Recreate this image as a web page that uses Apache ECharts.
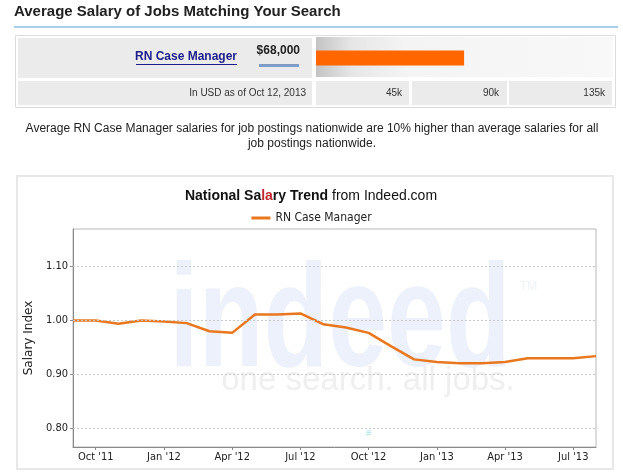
<!DOCTYPE html>
<html><head><meta charset="utf-8">
<script src="https://cdn.jsdelivr.net/npm/echarts@6/dist/echarts.min.js"></script>
<style>html,body{margin:0;padding:0;background:#fff}#c{width:623px;height:473px}</style>
</head><body><div id="c"></div>
<script>
// ---- data ----
var jobTitle = 'RN Case Manager';
var salaryCategories = ['RN Case Manager'];
var salaryValues = [68000];
var salaryTickLabels = ['45k', '90k', '135k'];
var months = ["Sep '11","Oct '11","Nov '11","Dec '11","Jan '12","Feb '12","Mar '12","Apr '12","May '12","Jun '12","Jul '12","Aug '12",
              "Sep '12","Oct '12","Nov '12","Dec '12","Jan '13","Feb '13","Mar '13","Apr '13","May '13","Jun '13","Jul '13","Aug '13"];
var salaryIndex = [1.000,1.000,0.994,1.000,0.998,0.995,0.980,0.977,1.011,1.011,1.013,0.993,
                   0.987,0.977,0.952,0.928,0.923,0.921,0.921,0.923,0.930,0.930,0.930,0.934];
var yTicks = [0.8, 0.9, 1.0, 1.1];

var chart = echarts.init(document.getElementById('c'), null, {renderer:'canvas'});
var orange = '#e8771e';
var cellFill = '#ebebeb';
var axisFont = '"DejaVu Sans Condensed", "DejaVu Sans", sans-serif';
function rect(x,y,w,h,fill,stroke,z){return {type:'rect',shape:{x:x,y:y,width:w,height:h},style:{fill:fill,stroke:stroke||null,lineWidth:stroke?1:0},z:z||0,silent:true};}
function txt(x,y,t,font,fill,align,z,extra,va){var s={text:t,font:font,fill:fill,align:align||'left',verticalAlign:va||'middle'};if(extra){for(var k in extra)s[k]=extra[k];}return {type:'text',x:x,y:y,style:s,z:z||5,silent:true};}

var logo = txt(340,399,'indeed','bold 106px Arial, "Liberation Sans", sans-serif','#edf1fb','center',-5,null,'bottom');
logo.scaleY = 1.38; logo.originX = 0; logo.originY = 0;

var graphics = [
  // header
  txt(14,12,'Average Salary of Jobs Matching Your Search','bold 15px Arial, "Liberation Sans", sans-serif','#222'),
  rect(14,26,604,2,'#a9cfea'),
  // table frame
  rect(15.5,35.5,600,72,'#fff','#dcdcdc',0),
  rect(18,38,294,40,cellFill),
  {type:'rect',shape:{x:316,y:37,width:297,height:40},style:{fill:new echarts.graphic.LinearGradient(0,0,1,0,[{offset:0,color:'#c4c4c4'},{offset:0.12,color:'#e6e6e6'},{offset:0.3,color:'#f4f4f4'},{offset:1,color:'#f8f8f8'}])},z:0,silent:true},
  rect(18,81,294,24,cellFill),
  rect(316,81,93,24,cellFill),
  rect(412,81,95,24,cellFill),
  rect(509,81,103,24,cellFill),
  txt(237,57,jobTitle,'bold 12px "Liberation Sans Narrow", Arial, sans-serif','#1c1c8a','right'),
  rect(136,64,101,1,'#1c1c8a',null,5),
  txt(300,51,'$68,000','bold 12px "Liberation Sans Narrow", Arial, sans-serif','#222','right'),
  rect(259,64,40,3,'#7d9cc8',null,5),
  txt(306,93,'In USD as of Oct 12, 2013','10px Arial, "Liberation Sans", sans-serif','#333','right'),
  txt(402,93,salaryTickLabels[0],'10px Arial, "Liberation Sans", sans-serif','#333','right'),
  txt(499,93,salaryTickLabels[1],'10px Arial, "Liberation Sans", sans-serif','#333','right'),
  txt(605,93,salaryTickLabels[2],'10px Arial, "Liberation Sans", sans-serif','#333','right'),
  // description
  txt(312,129,'Average RN Case Manager salaries for job postings nationwide are 10% higher than average salaries for all','12px Arial, "Liberation Sans", sans-serif','#222','center'),
  txt(312,144,'job postings nationwide.','12px Arial, "Liberation Sans", sans-serif','#222','center'),
  // chart panel
  {type:'rect',shape:{x:17,y:176,width:596,height:293},style:{fill:'#fff',stroke:'#e8e8e8',lineWidth:2},z:-10,silent:true},
  // watermark
  logo,
  txt(520,287,'TM','12px Arial, sans-serif','#eef2fb','left',-5),
  txt(368,381,'one search. all jobs.','33px Arial, "Liberation Sans", sans-serif','#efefef','center',-5),
  txt(369,433,'\u2261','10px Arial, sans-serif','#a8e0e8','center',-5),
  // chart title
  txt(311,196,'{b|National Sa}{r|la}{b|ry Trend} {n|from Indeed.com}','14px Arial','#111','center',5,{rich:{b:{font:'bold 14px Arial, "Liberation Sans", sans-serif',fill:'#111'},r:{font:'bold 14px Arial, "Liberation Sans", sans-serif',fill:'#c0282d'},n:{font:'14px Arial, "Liberation Sans", sans-serif',fill:'#111'}}})
];

var option = {
  animation:false,
  backgroundColor:'#fff',
  graphic:graphics,
  legend:{data:['RN Case Manager'],top:207,left:'center',icon:'rect',itemWidth:19,itemHeight:3,itemGap:6,
    textStyle:{fontFamily:axisFont,fontSize:12,color:'#222'}},
  grid:[
    {left:316,width:294,top:50,height:16,show:false},
    {left:73,right:27,top:229,bottom:26,show:true,borderColor:'#b8b8b8',borderWidth:1,backgroundColor:'transparent'}
  ],
  xAxis:[
    {gridIndex:0,type:'value',min:0,max:135000,show:false},
    {gridIndex:1,type:'category',data:months,boundaryGap:false,
      axisLine:{lineStyle:{color:'#888',width:1}},
      axisTick:{show:true,length:3,interval:function(i){return i%3===1;},lineStyle:{color:'#888'}},
      axisLabel:{interval:function(i){return i%3===1;},color:'#222',fontSize:11,fontFamily:axisFont,margin:5},
      splitLine:{show:false}}
  ],
  yAxis:[
    {gridIndex:0,type:'category',data:salaryCategories,show:false},
    {gridIndex:1,type:'value',min:0.766,max:1.169,
      name:'Salary Index',nameLocation:'middle',nameGap:31,nameRotate:90,
      nameTextStyle:{color:'#222',fontSize:12,fontFamily:'"DejaVu Sans", sans-serif'},
      axisLine:{show:true,lineStyle:{color:'#888'}},
      axisTick:{show:true,length:3,customValues:yTicks,lineStyle:{color:'#888'}},
      axisLabel:{customValues:yTicks,formatter:function(v){return v.toFixed(2);},color:'#222',fontSize:11,fontFamily:axisFont,margin:5},
      splitLine:{show:false}}
  ],
  series:[
    {type:'bar',xAxisIndex:0,yAxisIndex:0,data:salaryValues,barWidth:15,itemStyle:{color:'#ff6600'},silent:true},
    {name:'RN Case Manager',type:'line',xAxisIndex:1,yAxisIndex:1,data:salaryIndex,showSymbol:false,
      lineStyle:{color:orange,width:2.5},itemStyle:{color:orange},
      markLine:{silent:true,symbol:'none',label:{show:false},lineStyle:{color:'#c8c8c8',type:[2,2],width:1},
        data:yTicks.map(function(v){return {yAxis:v};})},
      z:3}
  ]
};
chart.setOption(option);
</script></body></html>
